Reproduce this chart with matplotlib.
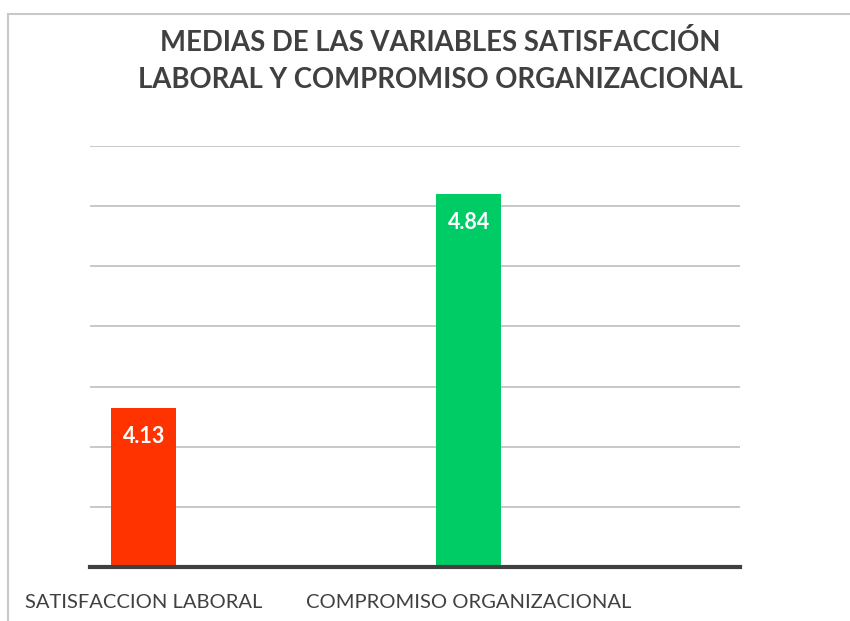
import matplotlib
matplotlib.use("Agg")
import matplotlib.pyplot as plt
from matplotlib.patches import Rectangle
import numpy as np

categories = ["SATISFACCION LABORAL", "COMPROMISO ORGANIZACIONAL"]
values = [4.13, 4.84]
bar_colors = ["#FF3300", "#00CC66"]
title = "MEDIAS DE LAS VARIABLES SATISFACCIÓN\nLABORAL Y COMPROMISO ORGANIZACIONAL"

plt.rcParams['font.family'] = ['Lato', 'DejaVu Sans']

fig = plt.figure(figsize=(8.5, 6.21), dpi=100)
# light frame of the chart box
fig.patches.append(Rectangle((8/850, -0.1), 1.2, (621-14)/621 + 0.1,
                             transform=fig.transFigure, fill=False,
                             edgecolor="#c8c8c8", linewidth=1.5))

ax = fig.add_axes([90/850, 54/621, 650/850, 421/621])
x = np.arange(len(categories)) + 0.166
bars = ax.bar(x, values, width=0.2, color=bar_colors, zorder=3)

ax.set_xlim(0, 2)
ax.set_ylim(3.6, 5.0)
ax.set_yticks(np.arange(3.6, 5.01, 0.2))
ax.yaxis.grid(True, color="#c4c4c4", linewidth=1.3, zorder=0)
ax.tick_params(axis="y", left=False, labelleft=False)
ax.tick_params(axis="x", bottom=False, pad=16)
ax.set_xticks(x)
ax.set_xticklabels(categories, fontsize=14.5, color="#404040")

for s in ["top", "right", "left"]:
    ax.spines[s].set_visible(False)
ax.spines["bottom"].set_color("#404040")
ax.spines["bottom"].set_linewidth(3)
ax.spines["bottom"].set_zorder(4)

for b, v in zip(bars, values):
    ax.text(b.get_x() + b.get_width() / 2, v - 0.095, f"{v:.2f}",
            ha="center", va="center", color="white", fontsize=15.5,
            fontweight="bold", zorder=5)

fig.text(440/850, 1 - 61/621, title, ha="center", va="center",
         fontsize=19.8, fontweight="bold", color="#404040", linespacing=1.55)

fig.savefig("out.png", dpi=100)
